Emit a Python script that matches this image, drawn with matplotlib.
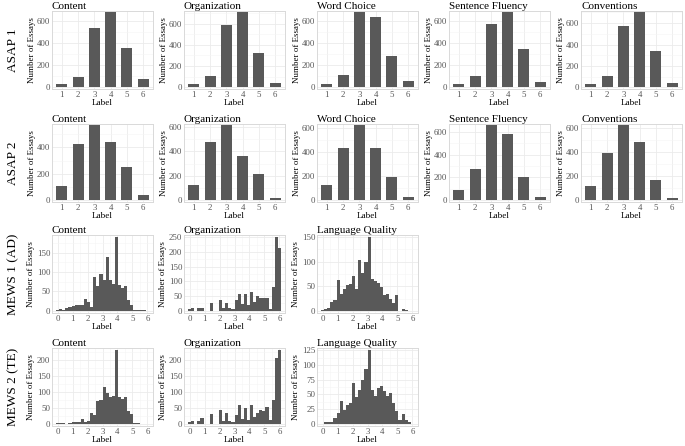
import numpy as np
import matplotlib
matplotlib.use("Agg")
import matplotlib.pyplot as plt
from matplotlib.ticker import MultipleLocator

plt.rcParams['font.family'] = ['Liberation Serif', 'DejaVu Serif']

# ---------------- data ----------------
asap_labels = [1, 2, 3, 4, 5, 6]
asap_traits = ["Content", "Organization", "Word Choice", "Sentence Fluency", "Conventions"]

asap1_content = [27, 92, 535, 680, 355, 80]
asap1_organization = [31, 105, 590, 705, 325, 45]
asap1_word_choice = [30, 110, 675, 630, 287, 59]
asap1_sentence_fluency = [30, 103, 575, 675, 350, 50]
asap1_conventions = [31, 108, 570, 700, 338, 37]

asap2_content = [108, 422, 565, 437, 252, 38]
asap2_organization = [128, 474, 610, 362, 213, 18]
asap2_word_choice = [128, 430, 618, 436, 190, 27]
asap2_sentence_fluency = [90, 272, 655, 578, 205, 28]
asap2_conventions = [120, 395, 622, 487, 172, 18]

mews_traits = ["Content", "Organization", "Language Quality"]
# histogram counts, 30 bins spanning score range 0..6
mews_range = (0.0, 6.0)
mews1_content = [2, 5, 3, 8, 9, 12, 14, 15, 16, 30, 22, 9, 86, 65, 95, 80, 140, 80, 70, 190,
                 66, 58, 63, 28, 16, 2, 2, 2, 2, 0]
mews1_organization = [5, 10, 0, 8, 10, 0, 0, 25, 0, 0, 37, 8, 27, 8, 5, 35, 58, 22, 56, 20,
                      63, 30, 50, 43, 43, 45, 5, 80, 250, 215]
mews1_language = [2, 3, 6, 18, 23, 62, 35, 45, 52, 55, 70, 45, 103, 78, 100, 150, 65, 60, 57, 48,
                  32, 35, 25, 15, 32, 0, 3, 1, 0, 0]
mews2_content = [1, 3, 3, 0, 3, 7, 5, 7, 15, 5, 8, 33, 28, 70, 75, 115, 95, 85, 88, 230,
                 85, 78, 85, 40, 30, 3, 3, 0, 0, 0]
mews2_organization = [5, 10, 0, 10, 18, 0, 0, 30, 0, 0, 42, 10, 35, 10, 5, 28, 60, 15, 50, 12,
                      60, 20, 35, 43, 40, 52, 12, 75, 205, 230]
mews2_language = [0, 3, 3, 3, 10, 18, 38, 23, 32, 35, 69, 46, 58, 75, 93, 125, 58, 48, 60, 64,
                  55, 47, 52, 35, 22, 7, 17, 7, 3, 0]

row_labels = ["ASAP 1", "ASAP 2", "MEWS 1 (AD)", "MEWS 2 (TE)"]

asap_rows = [
    [asap1_content, asap1_organization, asap1_word_choice, asap1_sentence_fluency, asap1_conventions],
    [asap2_content, asap2_organization, asap2_word_choice, asap2_sentence_fluency, asap2_conventions],
]
mews_rows = [
    [mews1_content, mews1_organization, mews1_language],
    [mews2_content, mews2_organization, mews2_language],
]
mews_ystep = [[50, 50, 50], [50, 50, 25]]

# ---------------- layout ----------------
W, H = 685, 446
fig = plt.figure(figsize=(W / 100, H / 100), dpi=100)
col_left = [52, 184, 317, 449, 581]
panel_w = 101
row_top = [11, 124, 235, 348]
panel_h = 78

BAR = "#595959"
GRID = "#ebebeb"
GRID_MINOR = "#f5f5f5"
TICKC = "#555555"


def make_ax(r, c):
    l = col_left[c] / W
    b = 1 - (row_top[r] + panel_h) / H
    ax = fig.add_axes([l, b, panel_w / W, panel_h / H])
    for s in ax.spines.values():
        s.set_color("#d9d9d9")
        s.set_linewidth(0.7)
    ax.set_axisbelow(True)
    ax.tick_params(axis="both", which="both", length=0, pad=1.2, labelsize=6.3, labelcolor=TICKC)
    ax.set_xlabel("Label", fontsize=6.6, labelpad=0)
    ax.set_ylabel("Number of Essays", fontsize=6.4, labelpad=1)
    return ax


def style_grid(ax, xminor=True):
    ax.grid(True, which="major", color=GRID, lw=0.6)
    ax.grid(True, which="minor", axis="y", color=GRID_MINOR, lw=0.4)
    if xminor:
        ax.grid(True, which="minor", axis="x", color=GRID_MINOR, lw=0.4)


for r, row in enumerate(asap_rows):
    for c, vals in enumerate(row):
        ax = make_ax(r, c)
        ax.bar(asap_labels, vals, width=0.68, color=BAR, zorder=2)
        m = max(vals)
        ax.set_xlim(0.4, 6.6)
        ax.set_ylim(-0.022 * m, 1.02 * m)
        ax.set_xticks(asap_labels)
        ax.yaxis.set_major_locator(MultipleLocator(200))
        ax.yaxis.set_minor_locator(MultipleLocator(100))
        style_grid(ax, xminor=False)
        ax.set_title(asap_traits[c], loc="left", fontsize=8, pad=1.5)

edges_n = 30
for rr, row in enumerate(mews_rows):
    r = rr + 2
    for c, vals in enumerate(row):
        ax = make_ax(r, c)
        centers = np.linspace(mews_range[0], mews_range[1], edges_n)
        width = (mews_range[1] - mews_range[0]) / (edges_n - 1)
        ax.bar(centers, vals, width=width, color=BAR, zorder=2, linewidth=0)
        m = max(vals)
        ax.set_xlim(-0.38, 6.38)
        ax.set_ylim(-0.03 * m, 1.03 * m)
        ax.xaxis.set_major_locator(MultipleLocator(1))
        ax.xaxis.set_minor_locator(MultipleLocator(0.5))
        st = mews_ystep[rr][c]
        ax.yaxis.set_major_locator(MultipleLocator(st))
        ax.yaxis.set_minor_locator(MultipleLocator(st / 2))
        style_grid(ax)
        ax.set_title(mews_traits[c], loc="left", fontsize=8, pad=1.5)

for r, lab in enumerate(row_labels):
    yc = 1 - (row_top[r] + panel_h / 2) / H
    fig.text(13 / W, yc, lab, rotation=90, ha="center", va="center", fontsize=9.5)

fig.savefig("out.png", dpi=100)
